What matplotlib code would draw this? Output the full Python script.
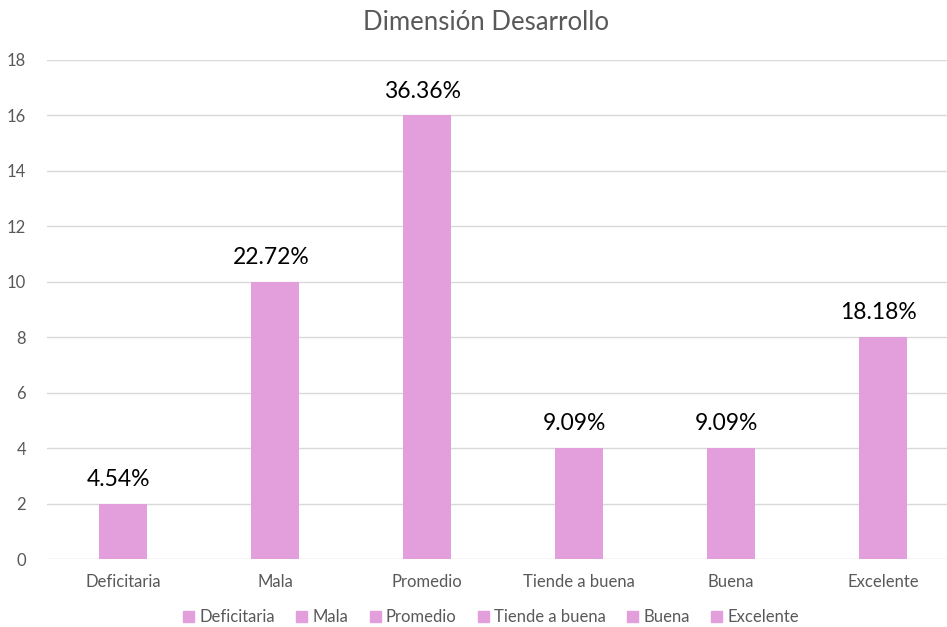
import matplotlib
matplotlib.use("Agg")
import matplotlib.pyplot as plt
from matplotlib.patches import Patch

categories = ["Deficitaria", "Mala", "Promedio", "Tiende a buena", "Buena", "Excelente"]
values = [2, 10, 16, 4, 4, 8]
labels = ["4.54%", "22.72%", "36.36%", "9.09%", "9.09%", "18.18%"]
title = "Dimensión Desarrollo"

bar_color = "#E39FDC"
text_gray = "#595959"
font = ["Lato", "DejaVu Sans"]
plt.rcParams["font.family"] = font

W, H = 947, 627
fig = plt.figure(figsize=(W / 100, H / 100), dpi=100)
ax = fig.add_axes([47 / W, (H - 559) / H, 912 / W, 499 / H])

x = list(range(len(categories)))
ax.bar(x, values, width=48 / 152, color=bar_color, zorder=3)
for xi, v, lab in zip(x, values, labels):
    ax.annotate(lab, (xi, v), xytext=(-3, 10), textcoords="offset points",
                ha="center", va="bottom", fontsize=16.5, color="black")

ax.set_xlim(-0.5, len(categories) - 0.5)
ax.set_ylim(0, 18)
ax.set_yticks(range(0, 19, 2))
ax.set_xticks(x)
ax.set_xticklabels(categories)
ax.tick_params(axis="both", length=0, colors=text_gray, labelsize=12)
ax.tick_params(axis="x", pad=11)
ax.tick_params(axis="y", pad=15)
ax.grid(axis="y", color="#D9D9D9", linewidth=1, zorder=0)
for s in ax.spines.values():
    s.set_visible(False)

fig.text(486 / W, 1 - 23 / H, title, ha="center", va="center", fontsize=18.5, color=text_gray)

handles = [Patch(color=bar_color, label=c) for c in categories]
fig.legend(handles=handles, loc="center", bbox_to_anchor=(491 / W, 1 - 617 / H), ncol=6,
           frameon=False, fontsize=12, labelcolor=text_gray, handlelength=0.65, handleheight=0.65,
           handletextpad=0.3, columnspacing=1.3)

fig.savefig("out.png", dpi=100)
